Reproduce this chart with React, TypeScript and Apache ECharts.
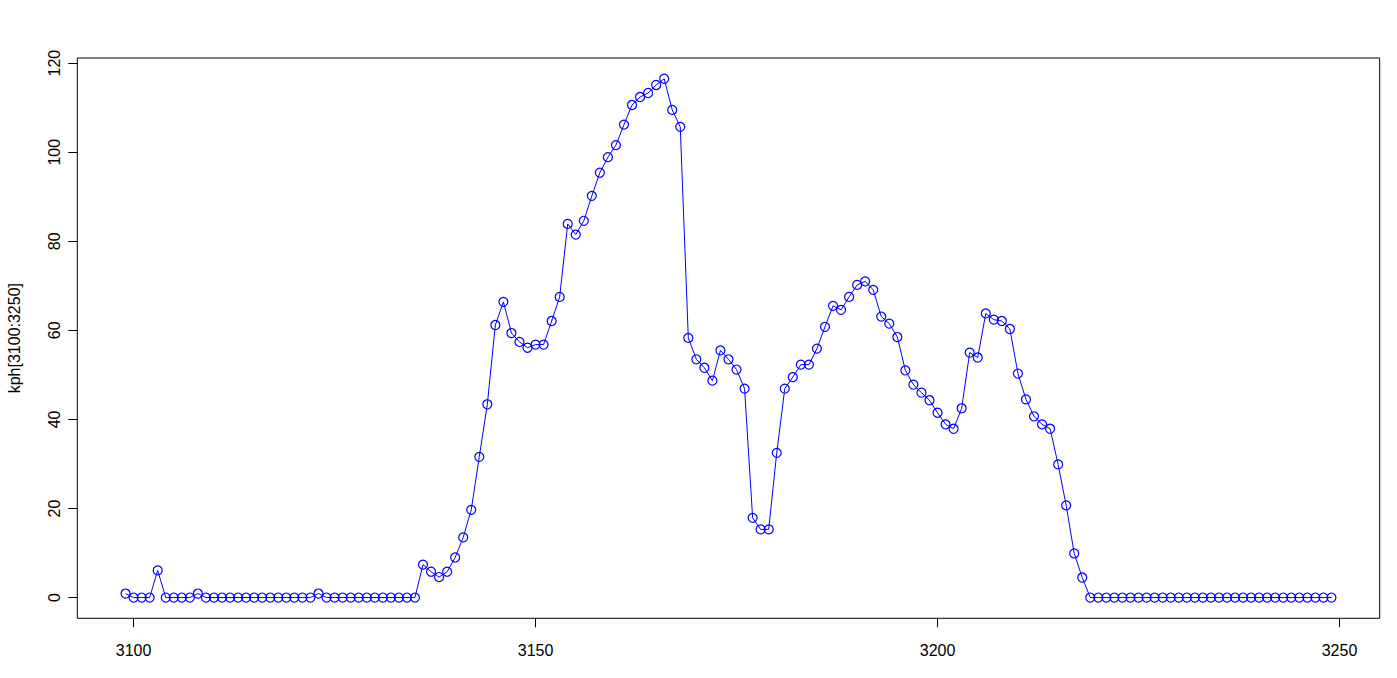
import React, { useEffect, useRef } from "react";
import * as echarts from "echarts";

const startX = 3099;
const kph: number[] = [
  0.9, 0, 0, 0, 6.1, 0, 0, 0, 0, 0.9,
  0, 0, 0, 0, 0, 0, 0, 0, 0, 0, 0, 0, 0, 0,
  0.9,
  0, 0, 0, 0, 0, 0, 0, 0, 0, 0, 0, 0,
  7.4, 5.8, 4.6, 5.8, 9.0, 13.5, 19.7, 31.6, 43.4,
  61.2, 66.4, 59.4, 57.4, 56.1, 56.8, 56.8, 62.1, 67.5, 83.9,
  81.5, 84.6, 90.2, 95.4, 98.9, 101.6, 106.2, 110.6, 112.4, 113.3,
  115.1, 116.5, 109.5, 105.7, 58.3, 53.5, 51.6, 48.7, 55.5, 53.5,
  51.2, 46.9, 17.9, 15.3, 15.3, 32.5, 46.9, 49.5, 52.3, 52.3,
  55.9, 60.8, 65.5, 64.6, 67.5, 70.2, 71.0, 69.1, 63.1, 61.5,
  58.5, 51.0, 47.8, 46.0, 44.3, 41.5, 38.9, 37.9, 42.5, 55.0,
  53.9, 63.8, 62.4, 62.1, 60.3, 50.3, 44.5, 40.7, 38.9, 37.9,
  29.9, 20.7, 9.9, 4.5, 0,
  0, 0, 0, 0, 0, 0, 0, 0, 0, 0,
  0, 0, 0, 0, 0, 0, 0, 0, 0, 0,
  0, 0, 0, 0, 0, 0, 0, 0, 0, 0,
];
const xTicks = [3100, 3150, 3200, 3250];
const yTicks = [0, 20, 40, 60, 80, 100, 120];
const yName = "kph[3100:3250]";

export default function App() {
  const ref = useRef<HTMLDivElement>(null);
  useEffect(() => {
    if (!ref.current) return;
    const chart = echarts.init(ref.current, undefined, { renderer: "svg" });
    const font = "'Liberation Sans', Arial, Helvetica, sans-serif";
    const data = kph.map((v, i) => [startX + i, v]);
    chart.setOption({
      animation: false,
      backgroundColor: "#ffffff",
      grid: {
        left: 77.3,
        right: 17.3,
        top: 58,
        bottom: 59.7,
        containLabel: false,
        outerBoundsMode: "none",
        show: true,
        borderColor: "#000",
        borderWidth: 1,
        backgroundColor: "transparent",
      },
      xAxis: {
        type: "value",
        min: 3093,
        max: 3255,
        axisLine: { show: false, onZero: false },
        splitLine: { show: false },
        axisTick: {
          show: true,
          length: 9,
          customValues: xTicks,
          lineStyle: { color: "#000", width: 1 },
        },
        axisLabel: {
          customValues: xTicks,
          formatter: (v: number) => String(v),
          margin: 24,
          fontSize: 16,
          color: "#000",
          fontFamily: font,
        },
      },
      yAxis: {
        type: "value",
        min: -4.66,
        max: 121.16,
        name: yName,
        nameLocation: "middle",
        nameGap: 55,
        nameRotate: 90,
        nameTextStyle: { fontSize: 16, color: "#000", fontFamily: font },
        axisLine: { show: false, onZero: false },
        splitLine: { show: false },
        axisTick: {
          show: true,
          length: 9,
          customValues: yTicks,
          lineStyle: { color: "#000", width: 1 },
        },
        axisLabel: {
          customValues: yTicks,
          formatter: (v: number) => String(v),
          rotate: 90,
          margin: 15,
          fontSize: 16,
          color: "#000",
          fontFamily: font,
        },
      },
      series: [
        {
          type: "line",
          data,
          symbol: "circle",
          symbolSize: 9,
          showSymbol: true,
          lineStyle: { color: "#0000ff", width: 1 },
          itemStyle: { color: "rgba(0,0,0,0)", borderColor: "#0000ff", borderWidth: 1.2 },
          emphasis: { disabled: true },
        },
      ],
    });
    return () => chart.dispose();
  }, []);
  return (
    <div
      ref={ref}
      style={{ position: "absolute", left: 0, top: 0, width: 1397, height: 678 }}
    />
  );
}
